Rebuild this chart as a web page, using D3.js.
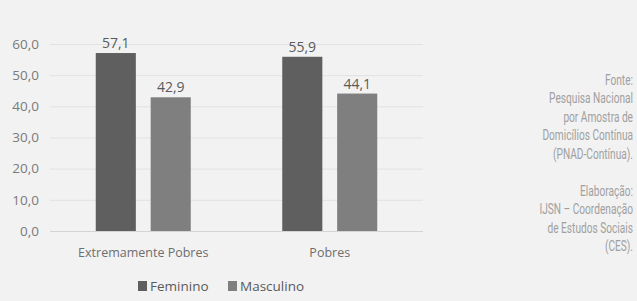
<!DOCTYPE html>
<html>
<head>
<meta charset="utf-8">
<script src="https://cdn.jsdelivr.net/npm/d3@7"></script>
<style>
  body { margin: 0; background: #f2f2f2; }
  text { font-family: "Open Sans", "Noto Sans", sans-serif; }
</style>
</head>
<body>
<div class="chart"></div>
<script>
var categories = ["Extremamente Pobres", "Pobres"];
var series = ["Feminino", "Masculino"];
var feminino = [57.1, 55.9];
var masculino = [42.9, 44.1];
var yTicks = [0, 10, 20, 30, 40, 50, 60];
var noteLines = ["Fonte:", "Pesquisa Nacional", "por Amostra de", "Domicílios Contínua", "(PNAD-Contínua).", "", "Elaboração:", "IJSN – Coordenação", "de Estudos Sociais", "(CES)."];

var width = 637,
    height = 301;

var colors = ["#5f5f5f", "#7f7f7f"];
var fmt = function(v){ return d3.format(".1f")(v).replace(".", ","); };

var svg = d3.select(".chart").append("svg")
    .attr("width", width)
    .attr("height", height);

svg.append("rect")
    .attr("width", width)
    .attr("height", height)
    .style("fill", "#f2f2f2");

var x0 = d3.scaleBand()
    .domain(categories)
    .range([50, 423]);

var x1 = d3.scaleBand()
    .domain(series)
    .range([x0.bandwidth()/2 - 47.5, x0.bandwidth()/2 + 47.5])
    .paddingInner(0.27);

var y = d3.scaleLinear()
    .domain([0, 60])
    .range([231, 44]);

// gridlines + y labels
var yAxis = d3.axisLeft(y)
    .tickValues(yTicks)
    .tickSize(-(423 - 50))
    .tickPadding(11)
    .tickFormat(fmt);

var gy = svg.append("g")
    .attr("transform", "translate(50,0)")
    .call(yAxis);
gy.select(".domain").remove();
gy.selectAll(".tick line")
    .style("stroke", function(d){ return d === 0 ? "#d4d4d4" : "#e2e2e2"; });
gy.selectAll(".tick text")
    .style("fill", "#7a7a7a")
    .style("font-size", "13.5px");

var data = categories.map(function(c, i){
  return { cat: c, vals: [
    { s: series[0], v: feminino[i] },
    { s: series[1], v: masculino[i] }
  ]};
});

var groups = svg.selectAll(".grp")
    .data(data)
    .enter()
    .append("g")
      .attr("class", "grp")
      .attr("transform", function(d){ return "translate(" + x0(d.cat) + ",0)"; });

groups.selectAll("rect")
    .data(function(d){ return d.vals; })
    .enter()
    .append("rect")
      .attr("x", function(d){ return x1(d.s); })
      .attr("width", x1.bandwidth())
      .attr("y", function(d){ return y(d.v); })
      .attr("height", function(d){ return y(0) - y(d.v); })
      .style("fill", function(d, i){ return colors[i]; });

groups.selectAll(".val")
    .data(function(d){ return d.vals; })
    .enter()
    .append("text")
      .attr("class", "val")
      .attr("x", function(d){ return x1(d.s) + x1.bandwidth()/2; })
      .attr("y", function(d){ return y(d.v) - 5; })
      .style("text-anchor", "middle")
      .style("font-size", "14px")
      .style("fill", "#5a5a5a")
      .text(function(d){ return fmt(d.v); });

// category labels
svg.selectAll(".cat")
    .data(categories)
    .enter()
    .append("text")
      .attr("class", "cat")
      .attr("x", function(d){ return x0(d) + x0.bandwidth()/2; })
      .attr("y", 257)
      .style("text-anchor", "middle")
      .style("font-size", "12.5px")
      .style("fill", "#6e6e6e")
      .text(function(d){ return d; });

// legend
var legendX = [138, 228];
var legend = svg.selectAll(".leg")
    .data(series)
    .enter()
    .append("g")
      .attr("class", "leg")
      .attr("transform", function(d, i){ return "translate(" + legendX[i] + ",281)"; });

legend.append("rect")
    .attr("width", 9)
    .attr("height", 10)
    .style("fill", function(d, i){ return colors[i]; });

legend.append("text")
    .attr("x", 12)
    .attr("y", 9.5)
    .style("font-size", "13.5px")
    .style("fill", "#5a5a5a")
    .text(function(d){ return d; });

// source note, narrow sans
svg.append("text")
    .attr("text-anchor", "end")
    .attr("transform", "translate(633,0) scale(0.7,1)")
    .style("font-family", "Roboto, 'Liberation Sans', sans-serif")
    .style("font-size", "14.5px")
    .style("fill", "#a0a0a0")
  .selectAll("tspan")
    .data(noteLines)
    .enter()
    .append("tspan")
      .attr("x", 0)
      .attr("y", function(d, i){ return 85 + i * 18.5; })
      .text(function(d){ return d; });
</script>
</body>
</html>
